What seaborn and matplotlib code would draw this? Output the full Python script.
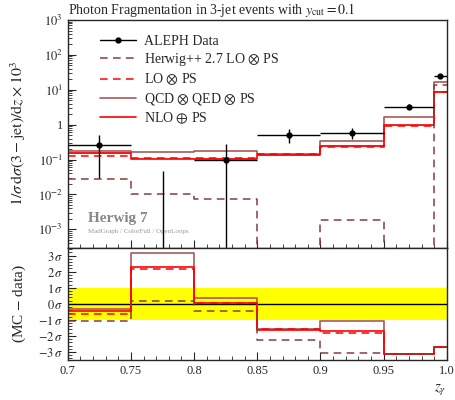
import numpy as np
import matplotlib
matplotlib.use('Agg')
import matplotlib.pyplot as plt
from matplotlib.ticker import MultipleLocator, FixedLocator, LogLocator, NullFormatter
from matplotlib.lines import Line2D
import seaborn as sns

# bin edges in z_gamma
edges = np.array([0.7, 0.75, 0.8, 0.85, 0.9, 0.95, 0.99, 1.0])

# ALEPH data
data = np.array([0.26, 0.0, 0.095, 0.52, 0.59, 3.3, 24.5])
data_err = np.array([0.23, 0.046, 0.19, 0.23, 0.2, 0.5, 2.9])

# MC predictions (main panel)
herwig_pp = np.array([0.028, 0.010, 0.0072, 0.0, 0.0019, 0.0, 14.0])
lo_ps = np.array([0.128, 0.11, 0.11, 0.14, 0.23, 0.93, 8.7])
qcd_qed = np.array([0.177, 0.166, 0.177, 0.148, 0.34, 1.66, 16.6])
nlo_ps = np.array([0.158, 0.107, 0.107, 0.139, 0.25, 0.95, 8.5])

# (MC - data)/sigma (ratio panel)
r_herwig_pp = np.array([-1.1, 0.2, -0.42, -2.24, -3.06, -3.1, -2.7])
r_lo_ps = np.array([-0.62, 2.15, 0.02, -1.6, -1.8, -3.15, -2.7])
r_qcd_qed = np.array([-0.35, 3.19, 0.39, -1.58, -1.1, -3.12, -2.7])
r_nlo_ps = np.array([-0.43, 2.32, 0.04, -1.61, -1.72, -3.15, -2.7])

sigma_labels = ['3', '2', '1', '0', '-1', '-2', '-3']

sns.set_style('ticks')
plt.rcParams['font.family'] = ['Liberation Serif', 'DejaVu Serif']
plt.rcParams['mathtext.fontset'] = 'stix'

brown_d = '#8b3a3a'
brown_s = '#a85a5a'
red = '#ff0000'

fig = plt.figure(figsize=(4.55, 4.0), dpi=100)
ax = fig.add_axes([0.149, 0.381, 0.833, 0.569])
rax = fig.add_axes([0.149, 0.1, 0.833, 0.281], sharex=ax)


def hist_line(a, vals, **kw):
    y = np.append(vals, vals[-1])
    sns.lineplot(x=edges, y=y, ax=a, drawstyle='steps-post', estimator=None,
                 sort=False, **kw)


centers = 0.5 * (edges[1:] + edges[:-1])
halfw = 0.5 * (edges[1:] - edges[:-1])
dash = (0, (5, 3.5))

# main panel
hist_line(ax, qcd_qed, color=brown_s, lw=1.2)
ax.fill_between(edges, np.append(nlo_ps, nlo_ps[-1]) * 0.94,
                np.append(nlo_ps, nlo_ps[-1]) * 1.06, step='post',
                color=red, alpha=0.45, lw=0)
hist_line(ax, nlo_ps, color=red, lw=1.2)
hist_line(ax, lo_ps, color=red, lw=1.1, linestyle=dash)
hist_line(ax, herwig_pp, color=brown_d, lw=1.1, linestyle=dash)
ax.errorbar(centers, data, xerr=halfw, yerr=data_err, fmt='o', color='k',
            ms=3.5, lw=1.0, capsize=0, zorder=5)
ax.set_yscale('log', nonpositive='clip')
ax.set_ylim(3e-4, 1e3)
ax.set_xlim(0.7, 1.0)

handles = [
    Line2D([], [], color='k', lw=1.0, marker='o', ms=3.5),
    Line2D([], [], color=brown_d, lw=1.1, linestyle=dash),
    Line2D([], [], color=red, lw=1.1, linestyle=dash),
    Line2D([], [], color=brown_s, lw=1.2),
    Line2D([], [], color=red, lw=1.2),
]
labels = ['ALEPH Data', r'Herwig++ 2.7 LO $\otimes$ PS', r'LO $\otimes$ PS',
          r'QCD $\otimes$ QED $\otimes$ PS', r'NLO $\oplus$ PS']
ax.legend(handles, labels, loc='upper left', bbox_to_anchor=(0.07, 0.96),
          frameon=False, fontsize=10, handlelength=2.6, labelspacing=0.25,
          borderaxespad=0, handletextpad=0.6)

ax.set_title(r'Photon Fragmentation in 3-jet events with $y_{\rm cut}=0.1$',
             loc='left', fontsize=10, pad=4)
ax.set_ylabel(r'$1/\sigma\,\mathrm{d}\sigma(3-\mathrm{jet})/\mathrm{d}z\times10^3$',
              fontsize=11.5)
ax.yaxis.set_label_coords(-0.105, 0.5)
ax.yaxis.set_major_locator(FixedLocator([1e-3, 1e-2, 1e-1, 1, 1e1, 1e2, 1e3]))
ax.set_yticklabels([r'$10^{-3}$', r'$10^{-2}$', r'$10^{-1}$', '1',
                    r'$10^{1}$', r'$10^{2}$', r'$10^{3}$'])
ax.yaxis.set_minor_locator(LogLocator(base=10, subs=np.arange(2, 10), numticks=20))
ax.yaxis.set_minor_formatter(NullFormatter())
ax.tick_params(axis='x', labelbottom=False)

ax.text(0.053, 0.13, 'Herwig 7', transform=ax.transAxes, fontsize=11,
        color='#888888', fontweight='bold', va='center')
ax.text(0.053, 0.069, 'MadGraph / ColorFull / OpenLoops', transform=ax.transAxes,
        fontsize=5, color='#999999', va='center')

# ratio panel
rax.axhspan(-1, 1, color='#ffff00', lw=0, zorder=0)
rax.axhline(0, color='k', lw=1.0)
hist_line(rax, r_qcd_qed, color=brown_s, lw=1.2)
hist_line(rax, r_nlo_ps, color=red, lw=1.2)
hist_line(rax, r_lo_ps, color=red, lw=1.1, linestyle=dash)
hist_line(rax, r_herwig_pp, color=brown_d, lw=1.1, linestyle=dash)
rax.set_ylim(-3.5, 3.5)
rax.set_xlim(0.7, 1.0)
rax.set_yticks([3, 2, 1, 0, -1, -2, -3])
rax.set_yticklabels([r'$%s\,\sigma$' % s for s in sigma_labels])
rax.yaxis.set_minor_locator(MultipleLocator(0.2))
rax.set_ylabel('(MC $-$ data)', fontsize=11)
rax.yaxis.set_label_coords(-0.105, 0.5)
rax.xaxis.set_minor_locator(MultipleLocator(0.01))
rax.set_xticks([0.7, 0.75, 0.8, 0.85, 0.9, 0.95, 1.0])
rax.set_xticklabels(['0.7', '0.75', '0.8', '0.85', '0.9', '0.95', '1.0'])
rax.set_xlabel(r'$z_\gamma$', loc='right', fontsize=11)

for a in (ax, rax):
    a.tick_params(which='both', direction='in', labelsize=9)
    a.tick_params(which='major', length=6)
    a.tick_params(which='minor', length=3)
    for s in a.spines.values():
        s.set_linewidth(1.0)

fig.savefig('out.png', dpi=100)
